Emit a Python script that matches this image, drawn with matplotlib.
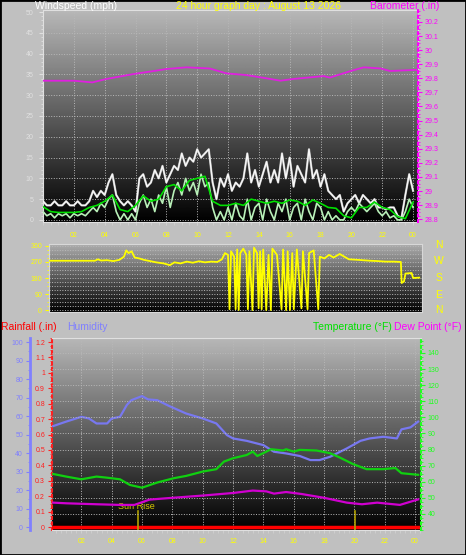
import numpy as np
import matplotlib.pyplot as plt
from matplotlib.ticker import MultipleLocator

plt.rcParams['font.family'] = ['Liberation Sans', 'DejaVu Sans']

# ---- wind speed (mph), 15 minute samples from 00:00 to 24:00
wind_gust = [4.5, 3.5, 3.5, 4.5, 3.5, 3.5, 4.5, 3.5, 3.5, 4.5, 3.5, 3.5,
             4.5, 7, 5.5, 7, 6, 9, 11, 6, 4.5, 3.5, 4.5, 3.5,
             2, 10, 11, 8, 9, 12, 10, 13, 9, 11, 13, 12,
             16, 13, 15, 14, 17, 15, 16, 17, 9, 5, 10, 8,
             11, 7, 9, 8, 10, 16, 9, 12, 8, 11, 14, 9,
             12, 9, 16, 10, 15, 8, 13, 11, 9, 17, 10, 12,
             8, 11, 7, 6, 5, 6, 2, 4, 5, 6, 4, 6,
             5, 4, 5, 3, 3, 2.5, 3, 3, 1, 0.5, 6, 11,
             7]
wind_speed = [2, 1, 1.5, 0.5, 1.5, 1, 1.5, 0.5, 1.5, 1, 1.5, 1,
              2, 3, 2, 4, 3, 5, 6, 2, 0, 1.5, 0, 1.5,
              0, 4, 6, 3, 5, 2, 6, 4, 8, 3, 7, 9,
              6, 10, 7, 9, 6, 11, 8, 9, 3, 0, 2, 0,
              3, 0, 4, 1, 0, 5, 0, 3, 4, 0, 5, 2,
              0, 4, 2, 5, 0, 3, 4, 0, 5, 2, 0, 4,
              3, 0, 2, 0, 1, 0, 0, 2, 3, 2, 4, 3,
              2, 3, 4, 2, 1, 2, 0.5, 1, 0, 0, 2, 5,
              3]
# average wind, 30 minute samples
wind_avg = [3.2, 2.0, 1.8, 1.8, 1.8, 2.0, 3.0, 3.5, 4.5, 6.0, 2.5, 2.0,
            3.5, 5.8, 4.5, 5.0, 8.0, 8.5, 7.0, 9.5, 10.0, 10.5, 4.5, 3.5,
            3.5, 4.0, 3.5, 5.0, 4.5, 4.0, 4.5, 4.0, 4.8, 4.5, 3.5, 4.8,
            4.0, 3.0, 2.8, 1.0, 0.5, 3.0, 3.0, 4.3, 3.0, 2.5, 0.8, 0.3,
            4.3]

# ---- barometer (in)
baro_hours = [0.0, 2.0, 3.2, 4.1, 5.9, 7.2, 8.0, 9.3, 10.8, 11.9, 13.2,
              14.5, 15.4, 16.2, 18.2, 18.6, 19.9, 20.8, 21.9, 22.5, 24.2]
baro = [29.783, 29.783, 29.771, 29.795, 29.831, 29.852, 29.866, 29.878,
        29.870, 29.835, 29.823, 29.800, 29.783, 29.795, 29.816, 29.805,
        29.850, 29.878, 29.870, 29.852, 29.860]

# ---- wind direction (degrees)
dir_hours = [0, 3.0, 3.2, 3.4, 3.8, 4.2, 4.6, 4.9, 5.05, 5.2, 5.4, 5.6,
             5.9, 6.2, 6.6, 7.0, 7.5, 7.9, 8.2, 8.6, 9.0, 9.4, 9.8, 10.2,
             10.6, 11.0, 11.3, 11.5, 11.7, 11.8, 11.9, 12.1, 12.2, 12.3,
             12.4, 12.5, 12.7, 12.9, 13.0, 13.1, 13.3, 13.4, 13.6, 13.7,
             13.8, 13.9, 14.0, 14.2, 14.35, 14.5, 14.6, 14.9, 15.2, 15.3,
             15.5, 15.6, 15.75, 15.9, 16.0, 16.2, 16.5, 16.6, 16.9, 17.0,
             17.3, 17.6, 17.7, 18.0, 18.3, 18.6, 19.0, 19.3, 19.6, 20.0,
             20.5, 21.0, 21.5, 22.0, 22.5, 23.0, 23.05, 23.2, 23.3, 23.7,
             23.8, 24.2]
wind_dir = [277, 277, 285, 278, 280, 275, 282, 300, 335, 320, 330, 295,
            290, 282, 275, 268, 262, 252, 268, 262, 272, 266, 274, 268,
            272, 270, 285, 320, 310, 5, 330, 300, 5, 340,
            0, 320, 345, 310, 5, 330, 0, 350, 320, 10,
            330, 5, 340, 0, 310, 0, 345, 310, 5, 340,
            0, 330, 0, 320, 5, 340, 10, 330, 5, 320,
            335, 5, 300, 290, 310, 295, 315, 300, 285, 283,
            280, 277, 275, 272, 272, 270, 152, 160, 205, 208,
            180, 182]

# ---- humidity (%), temperature and dew point (F), rainfall (in)
hum_hours = [0.15, 1.0, 2.0, 2.5, 3.0, 3.7, 4.0, 4.55, 5.0, 5.3, 6.0, 6.4,
             7.0, 7.8, 8.9, 10.0, 10.9, 11.6, 12.0, 12.9, 14.0, 14.7,
             15.5, 16.4, 17.1, 17.7, 18.4, 19.5, 20.4, 21.0, 21.9, 22.8,
             23.1, 23.7, 24.2]
humidity = [54.6, 57.0, 59.6, 58.7, 56.0, 56.0, 58.7, 59.6, 66.0, 68.6,
            70.8, 69.0, 68.6, 65.4, 61.4, 58.7, 56.0, 49.7, 47.9, 46.6,
            44.3, 40.7, 39.8, 38.4, 36.2, 36.2, 38.0, 42.5, 46.6, 47.9,
            48.8, 47.9, 52.8, 53.9, 57.0]

temp_hours = [0.15, 1.0, 2.0, 3.0, 3.7, 4.55, 5.2, 6.0, 7.0, 8.1, 8.9,
              10.0, 10.9, 11.4, 12.0, 12.9, 13.3, 13.6, 14.2, 14.5, 15.3,
              15.5, 16.0, 16.4, 17.5, 18.4, 19.0, 19.9, 20.8, 21.9, 22.7,
              23.1, 24.2]
temperature = [64.8, 63.2, 61.5, 63.2, 62.5, 61.5, 58.0, 56.3, 59.5, 62.2,
               63.6, 66.3, 67.8, 72.5, 74.6, 76.6, 78.7, 76.0, 78.7, 80.2,
               79.4, 80.2, 78.7, 79.8, 79.4, 77.7, 75.2, 71.0, 67.8, 67.8,
               68.5, 65.3, 64.3]

dew_hours = [0.15, 1.0, 3.0, 4.5, 5.5, 6.5, 8.0, 10.0, 12.0, 13.3, 14.2,
             14.7, 15.5, 16.5, 18.0, 19.5, 20.5, 21.5, 23.0, 24.2]
dew_point = [47.0, 46.6, 46.0, 45.6, 45.6, 48.9, 50.0, 51.4, 53.0, 54.5,
             54.0, 52.6, 53.6, 52.4, 50.0, 47.0, 46.0, 47.0, 45.6, 49.0]

rain_hours = [0.0, 24.2]
rainfall = [0.0, 0.0]

sun_rise = 5.71
sun_set = 20.04

hour_ticks = list(range(2, 25, 2))
hour_labels = ['%02d' % (h % 24) for h in hour_ticks]

W, H = 466, 555
fig = plt.figure(figsize=(W / 100, H / 100), dpi=100, facecolor='#c0c0c0')
fig.add_artist(plt.Rectangle((0, 0), 1, 1, transform=fig.transFigure,
                             fill=False, edgecolor='black', lw=2))


def box(x0, y0, x1, y1):
    # pixel box -> figure fraction
    return [x0 / W, 1 - y1 / H, (x1 - x0) / W, (y1 - y0) / H]


def shade(ax, top):
    grad = np.linspace(top, 0.0, 256).reshape(-1, 1)
    ax.imshow(grad, cmap='gray', vmin=0, vmax=1, aspect='auto',
              extent=[0, 1, 0, 1], transform=ax.transAxes, zorder=0)


grid_kw = dict(color='#b8b8b8', ls=':', lw=0.7)

# ================= wind speed / barometer =================
ax1 = fig.add_axes(box(43, 10, 418, 222))
shade(ax1, 0.72)
t15 = np.linspace(0, 24, len(wind_gust))
t30 = np.linspace(0, 24, len(wind_avg))
ax1.plot(t15, wind_gust, color='#a8a8a8', lw=1.6, zorder=2)
ax1.plot(t15, wind_gust, color='#f8f8f8', lw=1.0, zorder=3)
ax1.plot(t15, wind_speed, color='#b8f0b8', lw=1.2, zorder=4)
ax1.plot(t30, wind_avg, color='#00e000', lw=1.2, zorder=5)
ax1.set_xlim(0, 24.32)
ax1.set_ylim(-0.5, 50.5)
ax1.set_yticks(range(0, 51, 5))
ax1.yaxis.set_minor_locator(MultipleLocator(1))
ax1.set_xticks(hour_ticks)
ax1.set_xticklabels(hour_labels)
ax1.xaxis.set_minor_locator(MultipleLocator(0.5))
ax1.tick_params(axis='y', which='both', colors='#e0e0e0', labelsize=5,
                length=3, pad=4)
ax1.tick_params(axis='y', which='minor', length=1.5)
ax1.tick_params(axis='x', which='both', colors='#d0d0d0', labelcolor='#ffff00',
                labelsize=5, length=2, pad=5)
ax1.grid(True, **grid_kw)
for s in ax1.spines.values():
    s.set_color('#e0e0e0')

ax1b = ax1.twinx()
ax1b.plot(baro_hours, baro, color='#e020e0', lw=1.3)
ax1b.set_ylim(28.78, 30.285)
ax1b.set_yticks(np.arange(28.8, 30.25, 0.1))
ax1b.set_yticklabels(['%g' % round(v, 1) for v in np.arange(28.8, 30.25, 0.1)])
ax1b.yaxis.set_minor_locator(MultipleLocator(0.025))
ax1b.tick_params(axis='y', which='both', colors='#ff00ff', labelsize=5,
                 length=3, pad=2)
ax1b.tick_params(axis='y', which='minor', length=1.5)
ax1b.spines['right'].set_color('#ff00ff')
ax1b.spines['right'].set_linestyle(':')
ax1b.spines['right'].set_linewidth(1.5)
for s in ['left', 'top', 'bottom']:
    ax1b.spines[s].set_visible(False)

fig.text(35 / W, 1 - 6 / H, 'Windspeed (mph)', color='white', fontsize=7.5,
         va='center', ha='left')
fig.text(258 / W, 1 - 6 / H, '24 hour graph day : August 13 2026',
         color='#ffff00', fontsize=7.5, va='center', ha='center')
fig.text(439 / W, 1 - 6 / H, 'Barometer (.in)', color='#ff00ff', fontsize=7.5,
         va='center', ha='right')

# ================= wind direction =================
ax2 = fig.add_axes(box(49, 244, 422, 312))
shade(ax2, 0.68)
ax2.plot(dir_hours, wind_dir, color='#ffff00', lw=1.3, zorder=3)
ax2.set_xlim(0, 24.38)
ax2.set_ylim(-11, 371)
ax2.set_yticks(range(0, 361, 90))
ax2.yaxis.set_minor_locator(MultipleLocator(22.5))
ax2.set_xticks([])
ax2.tick_params(axis='y', which='both', colors='#ffff00', labelsize=5,
                length=3, pad=2)
ax2.tick_params(axis='y', which='minor', length=1.5)
ax2.grid(True, axis='y', which='both', **grid_kw)
for s in ax2.spines.values():
    s.set_color('#d8d8d8')
for lab, yy in zip(['N', 'W', 'S', 'E', 'N'], [245, 261, 278, 295, 310]):
    fig.text(439 / W, 1 - yy / H, lab, color='#ffff00', fontsize=7.5,
             ha='center', va='center')

# ================= rain / humidity / temperature =================
ax3 = fig.add_axes(box(52, 338, 421, 530))
shade(ax3, 0.72)
ax3.plot(rain_hours, rainfall, color='#ff0000', lw=2.5, zorder=5)
ax3.set_xlim(0.066, 24.39)
ax3.set_ylim(-0.019, 1.226)
ax3.set_yticks(np.arange(0, 1.25, 0.1))
ax3.set_yticklabels(['%g' % round(v, 1) for v in np.arange(0, 1.25, 0.1)])
ax3.yaxis.set_minor_locator(MultipleLocator(0.025))
ax3.set_xticks(hour_ticks)
ax3.set_xticklabels(hour_labels)
ax3.xaxis.set_minor_locator(MultipleLocator(1 / 3))
ax3.tick_params(axis='y', which='both', colors='#ff2020', labelsize=5,
                length=3, pad=2)
ax3.tick_params(axis='y', which='minor', length=1.5)
ax3.tick_params(axis='x', which='both', colors='#d0d0d0', labelcolor='#ffff00',
                labelsize=5, length=2, pad=4)
ax3.grid(True, axis='x', **grid_kw)
for s in ax3.spines.values():
    s.set_color('#e0e0e0')
ax3.spines['left'].set_color('#ff2020')
ax3.spines['left'].set_linestyle(':')
ax3.spines['left'].set_linewidth(1.5)

# sunrise / sunset markers
for h in (sun_rise, sun_set):
    ax3.axvline(h, ymin=0, ymax=0.1, color='#b0a000', lw=1.2, zorder=6)
ax3.text(sun_rise - 0.1, 0.12, 'Sun Rise', transform=ax3.get_xaxis_transform(),
         color='#d8c800', fontsize=6.5, ha='center', va='center', zorder=6)

axh = ax3.twinx()
axh.plot(hum_hours, humidity, color='#7878f0', lw=1.6)
axh.set_ylim(-1.6, 102.2)
axh.spines['left'].set_position(('axes', -22 / 369))
axh.spines['left'].set_visible(True)
axh.spines['left'].set_color('#8080ff')
axh.spines['left'].set_linewidth(2)
axh.yaxis.set_ticks_position('left')
axh.yaxis.set_label_position('left')
axh.set_yticks(range(0, 101, 10))
axh.yaxis.set_minor_locator(MultipleLocator(5))
axh.tick_params(axis='y', which='both', colors='#8080ff', labelsize=5,
                length=3, pad=2)
axh.tick_params(axis='y', which='minor', length=1.5)
for s in ['right', 'top', 'bottom']:
    axh.spines[s].set_visible(False)

axt = ax3.twinx()
axt.plot(temp_hours, temperature, color='#10d010', lw=1.6)
axt.plot(dew_hours, dew_point, color='#d000d0', lw=1.6)
axt.set_ylim(30, 149.3)
axt.set_yticks(range(40, 141, 10))
axt.yaxis.set_minor_locator(MultipleLocator(2.5))
axt.tick_params(axis='y', which='both', colors='#20ff20', labelsize=5,
                length=3, pad=2)
axt.tick_params(axis='y', which='minor', length=1.5)
axt.grid(True, axis='y', **grid_kw)
axt.spines['right'].set_color('#20ff20')
axt.spines['right'].set_linestyle(':')
axt.spines['right'].set_linewidth(1.5)
for s in ['left', 'top', 'bottom']:
    axt.spines[s].set_visible(False)

fig.text(1 / W, 1 - 327 / H, 'Rainfall (.in)', color='#ff0000', fontsize=7.5,
         va='center', ha='left')
fig.text(67 / W, 1 - 327 / H, 'Humidity', color='#8080ff', fontsize=7.5,
         va='center', ha='left')
fig.text(313 / W, 1 - 327 / H, 'Temperature (°F)', color='#00e000',
         fontsize=7.5, va='center', ha='left')
fig.text(462 / W, 1 - 327 / H, 'Dew Point (°F)', color='#ff00ff',
         fontsize=7.5, va='center', ha='right')

fig.savefig('out.png', dpi=100, facecolor=fig.get_facecolor())
